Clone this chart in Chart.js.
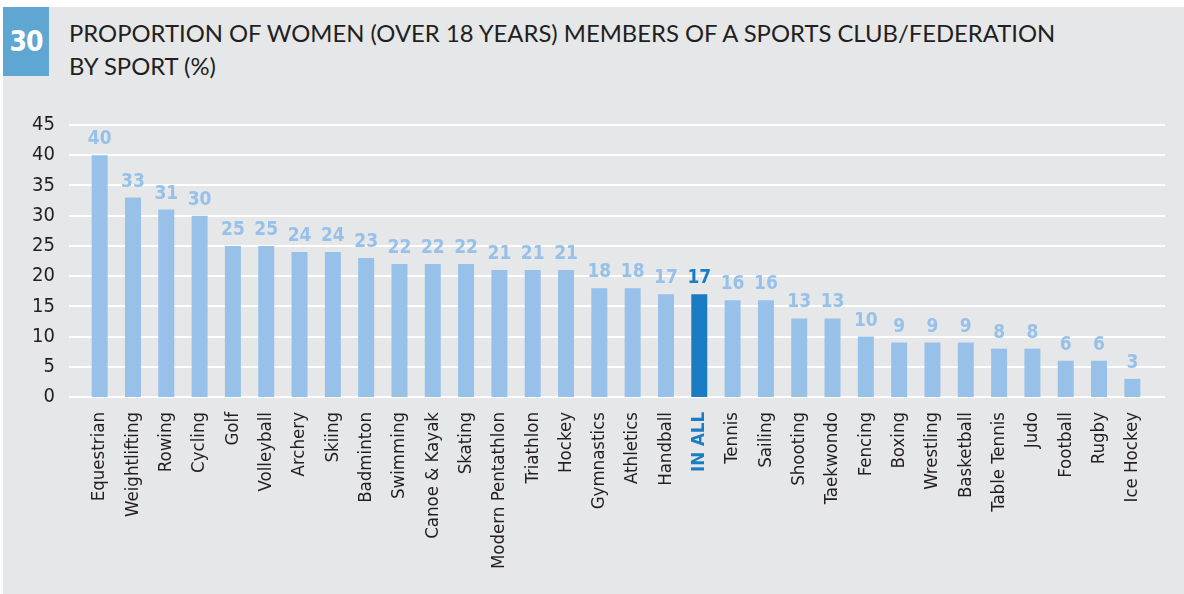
<!DOCTYPE html>
<html>
<head>
<meta charset="utf-8">
<script src="https://cdn.jsdelivr.net/npm/chart.js@4.4.1/dist/chart.umd.min.js"></script>
<style>
  html, body { margin: 0; padding: 0; background: #ffffff; }
  #wrap { position: relative; width: 1184px; height: 594px; overflow: hidden; background: #ffffff; }
  #panel { position: absolute; left: 3px; top: 7px; right: 0; bottom: 0; background: #e6e7e9; }
  #badge { position: absolute; left: 3px; top: 7px; width: 46px; height: 69px; background: #5fa7d2;
           color: #fff; font-family: 'DejaVu Sans Condensed', sans-serif;
           font-weight: bold; font-size: 28px; line-height: 69px; text-align: center; letter-spacing: -1px; }
  #title { position: absolute; left: 69px; top: 16px; color: #231f20;
           font-family: Lato, 'Open Sans', sans-serif; font-size: 24px; line-height: 33px; white-space: nowrap; }
  #title span { display: block; transform-origin: 0 0; }
  canvas { position: absolute; left: 0; top: 0; }
</style>
</head>
<body>
<div id="wrap">
  <div id="panel"></div>
  <div id="badge">30</div>
  <div id="title"><span id="t1">PROPORTION OF WOMEN (OVER 18 YEARS) MEMBERS OF A SPORTS CLUB/FEDERATION</span><span id="t2">BY SPORT (%)</span></div>
  <canvas id="c" width="1184" height="594"></canvas>
</div>
<script>
const categories = ["Equestrian","Weightlifting","Rowing","Cycling","Golf","Volleyball","Archery","Skiing","Badminton","Swimming","Canoe & Kayak","Skating","Modern Pentathlon","Triathlon","Hockey","Gymnastics","Athletics","Handball","IN ALL","Tennis","Sailing","Shooting","Taekwondo","Fencing","Boxing","Wrestling","Basketball","Table Tennis","Judo","Football","Rugby","Ice Hockey"];
const values = [40,33,31,30,25,25,24,24,23,22,22,22,21,21,21,18,18,17,17,16,16,13,13,10,9,9,9,8,8,6,6,3];
const highlight = "IN ALL";
const yTicks = [0,5,10,15,20,25,30,35,40,45];

// fit title line 1 width
(function(){
  const t1 = document.getElementById('t1');
  const w = t1.scrollWidth;
  const target = 986;
  const s = target / w;
  t1.style.transform = 'scaleX(' + s + ')';
  document.getElementById('t2').style.transform = 'scaleX(' + s + ')';
})();

const LIGHT = '#97c1e9';
const DARK = '#1a7dc4';
const NARROW = "'DejaVu Sans Condensed', sans-serif";

const gridPlugin = {
  id: 'fullGrid',
  beforeDatasetsDraw(chart) {
    const ys = chart.scales.y;
    const ctx = chart.ctx;
    ctx.save();
    ctx.strokeStyle = '#ffffff';
    ctx.lineWidth = 2;
    ys.ticks.forEach(t => {
      const y = Math.round(ys.getPixelForValue(t.value));
      ctx.beginPath();
      ctx.moveTo(69, y);
      ctx.lineTo(1165, y);
      ctx.stroke();
    });
    ctx.restore();
  }
};

const labelPlugin = {
  id: 'valueLabels',
  afterDatasetsDraw(chart) {
    const ctx = chart.ctx;
    const meta = chart.getDatasetMeta(0);
    ctx.save();
    ctx.textAlign = 'center';
    ctx.textBaseline = 'alphabetic';
    ctx.font = 'bold 19px ' + NARROW;
    meta.data.forEach((bar, i) => {
      ctx.fillStyle = categories[i] === highlight ? DARK : LIGHT;
      ctx.fillText(String(values[i]), bar.x, bar.y - 11);
    });
    ctx.restore();
  }
};

new Chart(document.getElementById('c'), {
  type: 'bar',
  data: {
    labels: categories,
    datasets: [{
      data: values,
      backgroundColor: categories.map(c => c === highlight ? DARK : LIGHT),
      barPercentage: 0.48,
      categoryPercentage: 1.0
    }]
  },
  options: {
    responsive: false,
    animation: false,
    layout: { padding: { left: 0, right: 35, top: 125, bottom: 0 } },
    plugins: { legend: { display: false }, tooltip: { enabled: false } },
    scales: {
      x: {
        grid: { display: false, drawTicks: false },
        border: { display: false },
        ticks: {
          autoSkip: false, minRotation: 90, maxRotation: 90, padding: 15,
          color: (ctx) => categories[ctx.index] === highlight ? DARK : '#231f20',
          font: (ctx) => ({ family: NARROW, size: 18.5, weight: categories[ctx.index] === highlight ? 'bold' : 'normal' })
        },
        afterFit(scale) { scale.height = 197; }
      },
      y: {
        min: 0, max: 45,
        grid: { display: false, drawTicks: false },
        border: { display: false },
        ticks: {
          stepSize: 5, padding: 28, color: '#231f20',
          font: { family: NARROW, size: 20 },
          callback: (v) => yTicks.includes(v) ? String(v) : ''
        },
        afterFit(scale) { scale.width = 83; }
      }
    }
  },
  plugins: [gridPlugin, labelPlugin]
});
</script>
</body>
</html>
